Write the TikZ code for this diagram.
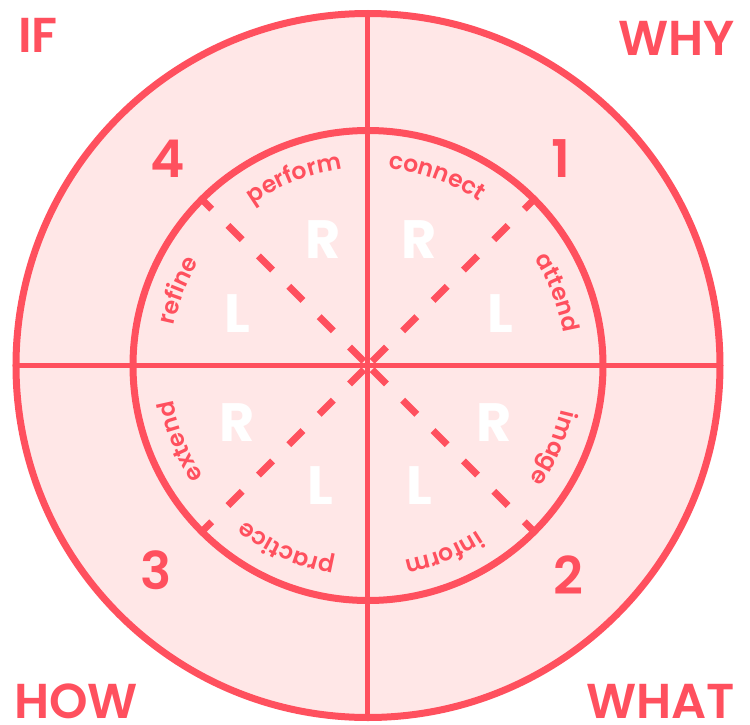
\documentclass[tikz,border=0pt]{standalone}
\usepackage{fontspec}
\setmainfont{Poppins}
\newfontfamily\medfont{Poppins SemiBold}
\usepackage{xcolor}
\usetikzlibrary{decorations.text}
\definecolor{wheelred}{RGB}{255,80,94}
\definecolor{wheelpink}{RGB}{255,231,231}
\newcommand{\wordstyle}{\medfont\fontsize{23.5}{27}\selectfont}

\begin{document}
\begin{tikzpicture}[
  x=1pt, y=1pt,
  every node/.style={inner sep=0pt},
  corner/.style={font=\medfont\fontsize{49}{56}\selectfont, text=wheelred},
  quarter/.style={font=\medfont\fontsize{52}{58}\selectfont, text=wheelred, anchor=base},
  side/.style={font=\bfseries\fontsize{54}{60}\selectfont, text=white, anchor=base},
  ring/.style={draw=wheelred, line width=7pt},
  axis/.style={draw=wheelred, line width=5pt},
  diag/.style={draw=wheelred, line width=7pt, dash pattern=on 20pt off 23pt, dash phase=37pt},
  wordarc/.style={decorate, decoration={text along path, text={|\wordstyle|#1}, text align=center, text color=wheelred}}
]
  \useasboundingbox (-368,-358.5) rectangle (382,365.5);

  \coordinate (hub) at (0,0);
  \fill[wheelpink] (hub) circle[radius=352];

  % diagonals of the inner wheel
  \foreach \a in {45,135,225,315}
    \draw[diag] (hub) -- (\a:235);

  \draw[axis] (0,352) -- (0,-352);
  \draw[axis] (-352,0) -- (352,0);
  \draw[ring] (hub) circle[radius=235];
  \draw[ring] (hub) circle[radius=352];

  % words round the inner ring, clockwise
  \path[wordarc=perform]  (161.5:198) arc[start angle=161.5, end angle=61.5,  radius=198];
  \path[wordarc=connect]  (120:198)   arc[start angle=120,   end angle=20,    radius=198];
  \path[wordarc=attend]   (71:198)    arc[start angle=71,    end angle=-29,   radius=198];
  \path[wordarc=image]    (26:198)    arc[start angle=26,    end angle=-74,   radius=198];
  \path[wordarc=inform]   (-18:198)   arc[start angle=-18,   end angle=-118,  radius=198];
  \path[wordarc=practice] (-64:198)   arc[start angle=-64,   end angle=-164,  radius=198];
  \path[wordarc=extend]   (-108:198)  arc[start angle=-108,  end angle=-208,  radius=198];
  \path[wordarc=refine]   (208.5:198) arc[start angle=208.5, end angle=108.5, radius=198];

  \node[corner, anchor=base west] (if)   at (-350,313.5)  {IF};
  \node[corner, anchor=base east] (why)  at (367,310.5)   {WHY};
  \node[corner, anchor=base west] (how)  at (-354,-352.5) {HOW};
  \node[corner, anchor=base east] (what) at (367,-352.5)  {WHAT};

  \node[quarter] (q1) at (192.5,188.5)  {1};
  \node[quarter] (q2) at (200,-228.5)   {2};
  \node[quarter] (q3) at (-211.5,-223.5) {3};
  \node[quarter] (q4) at (-200.5,188.5) {4};

  \node[side] (r4) at (-44.5,107.5)  {R};
  \node[side] (l4) at (-130.5,33.5)  {L};
  \node[side] (r1) at (51,107.5)     {R};
  \node[side] (l1) at (132.5,33.5)   {L};
  \node[side] (r3) at (-130.5,-75.5) {R};
  \node[side] (l3) at (-48,-138.5)   {L};
  \node[side] (r2) at (126.5,-75.5)  {R};
  \node[side] (l2) at (51,-138.5)    {L};
\end{tikzpicture}
\end{document}
